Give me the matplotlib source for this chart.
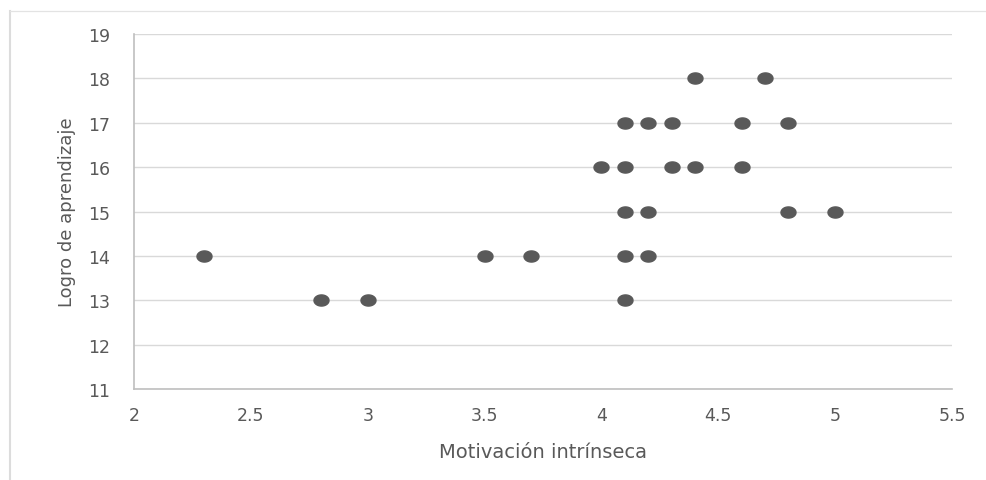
import matplotlib.pyplot as plt
import numpy as np
from matplotlib.path import Path
from matplotlib.lines import Line2D

# datos
motivacion = [4.4, 4.7,
              4.1, 4.2, 4.3, 4.6, 4.8,
              4.0, 4.1, 4.3, 4.4, 4.6,
              4.1, 4.2, 4.8, 5.0,
              2.3, 3.5, 3.7, 4.1, 4.2,
              2.8, 3.0, 4.1]
logro = [18, 18,
         17, 17, 17, 17, 17,
         16, 16, 16, 16, 16,
         15, 15, 15, 15,
         14, 14, 14, 14, 14,
         13, 13, 13]

plt.rcParams['font.family'] = ['DejaVu Sans']
gris = '#595959'

# marcador elíptico (la imagen original está estirada)
t = np.linspace(0, 2 * np.pi, 60)
elipse = Path(np.column_stack([1.35 * np.cos(t), np.sin(t)]))

fig = plt.figure(figsize=(9.87, 4.81), dpi=100)
ax = fig.add_axes([134 / 987, 91 / 481, 818 / 987, 355 / 481])

ax.plot(motivacion, logro, linestyle='none', marker=elipse, ms=10.8,
        color=gris, zorder=3)

ax.set_xlim(2, 5.5)
ax.set_ylim(11, 19)
ax.set_xticks(np.arange(2, 5.51, 0.5))
ax.set_xticklabels(['2', '2.5', '3', '3.5', '4', '4.5', '5', '5.5'])
ax.set_yticks(range(11, 20))

ax.grid(axis='y', color='#d9d9d9', linewidth=1)
ax.set_axisbelow(True)
for s in ['top', 'right']:
    ax.spines[s].set_visible(False)
for s in ['left', 'bottom']:
    ax.spines[s].set_color('#bfbfbf')
    ax.spines[s].set_linewidth(1.2)
ax.tick_params(length=0, labelsize=12.5, colors=gris)
ax.tick_params(axis='x', pad=12)
ax.tick_params(axis='y', pad=17)

ax.set_xlabel('Motivación intrínseca', fontsize=14, color=gris, labelpad=13)
ax.set_ylabel('Logro de aprendizaje', fontsize=13, color=gris, labelpad=9)

# borde del área del gráfico
fig.add_artist(Line2D([10 / 987, 10 / 987], [0, 1 - 12 / 481],
                      transform=fig.transFigure, color='#dcdcdc', lw=1.5))
fig.add_artist(Line2D([10 / 987, 1], [1 - 12 / 481, 1 - 12 / 481],
                      transform=fig.transFigure, color='#e3e3e3', lw=0.9))

fig.savefig('out.png', dpi=100)
